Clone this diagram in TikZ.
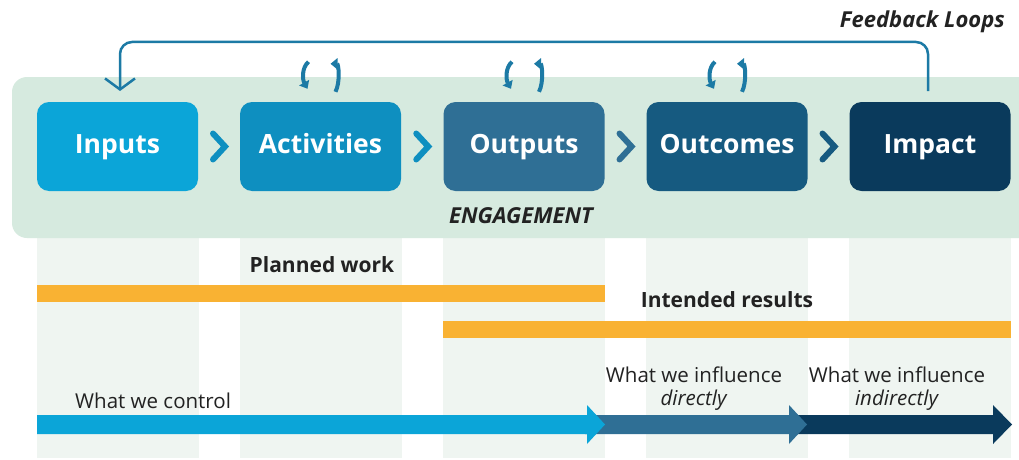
\documentclass[tikz,border=0pt]{standalone}
\usepackage{fontspec}
\setmainfont{Open Sans}
\usetikzlibrary{arrows.meta,calc}
\definecolor{cIn}{HTML}{0BA5D8}
\definecolor{cAct}{HTML}{0E8FC0}
\definecolor{cOut}{HTML}{2F6F95}
\definecolor{cOc}{HTML}{165A80}
\definecolor{cImp}{HTML}{0A3A5C}
\definecolor{cPanel}{HTML}{D6EADF}
\definecolor{cCol}{HTML}{EFF5F1}
\definecolor{cOrange}{HTML}{F9B233}
\definecolor{cLoop}{HTML}{1C7AA5}
\definecolor{cTxt}{HTML}{222222}
\tikzset{
  box/.style={rounded corners=12pt, minimum width=161pt, minimum height=89pt, text=white, inner sep=0pt,
    text height=19pt, text depth=6pt, font=\bfseries\fontsize{26.5}{30}\selectfont},
  chev/.style={line width=6pt, line cap=round, line join=miter},
  curl/.style={line width=4pt, cLoop, -{Triangle[length=7pt,width=11pt]}},
  lbl/.style={text=cTxt, font=\fontsize{20.5}{23}\selectfont, inner sep=0pt, align=center},
  blbl/.style={text=cTxt, font=\bfseries\fontsize{21}{25}\selectfont, inner sep=0pt},
  bilbl/.style={text=cTxt, font=\bfseries\itshape\fontsize{22}{25}\selectfont, inner sep=0pt},
}
\begin{document}
\begin{tikzpicture}[x=1pt,y=-1pt]
\clip (0,0) rectangle (1019,460);
\fill[white] (0,0) rectangle (1019,460);
% columns
\foreach \x in {37,240,443,646,849}{\fill[cCol] (\x,236) rectangle ++(162,222);}
% panel
\fill[cPanel, rounded corners=15pt] (12,77) rectangle (1040,238);
% boxes
\node[box, fill=cIn]  (inputs)   at (117.5,146.5) {Inputs};
\node[box, fill=cAct] (activities) at (320.5,146.5) {Activities};
\node[box, fill=cOut] (outputs)  at (524,146.5) {Outputs};
\node[box, fill=cOc]  (outcomes) at (727,146.5) {Outcomes};
\node[box, fill=cImp] (impact)   at (930,146.5) {Impact};
% chevrons
\foreach \a/\b/\c in {inputs/activities/cAct, activities/outputs/cAct, outputs/outcomes/cOut, outcomes/impact/cOc}{
  \draw[chev, \c] ($(\a.east)!.5!(\b.west)+(-6,-13)$) -- ++(12,13) -- ++(-12,13);
}
% feedback loop
\coordinate (fbR) at (928,91);
\coordinate (fbL) at (120,91);
\draw[cLoop, line width=2.5pt, rounded corners=12pt, -{Straight Barb[length=11pt,width=30pt,line width=2.5pt]}]
  (fbR) -- (928,42) -- (120,42) -- (fbL);
\node[anchor=east, bilbl] (fbtxt) at (1005,22) {Feedback Loops};
% curls
\foreach \n in {activities,outputs,outcomes}{
  \path (\n.north) coordinate (c\n);
  \draw[curl] ($(c\n)+(-12,-40)$) .. controls +(-7,6) and +(-5,-9) .. ($(c\n)+(-13,-13)$);
  \draw[curl] ($(c\n)+(15,-10)$) .. controls +(5,-10) and +(8,0) .. ($(c\n)+(10,-38)$);
}
\node[bilbl] (eng) at (521,216) {ENGAGEMENT};
% orange bars
\fill[cOrange] (37,285) rectangle (605,302);
\fill[cOrange] (443,321) rectangle (1011,338);
\node[blbl] (planned) at (322,265) {Planned work};
\node[blbl] (intended) at (727,300) {Intended results};
% bottom arrows
\fill[cImp] (790,415) -- (993,415) -- (993,405) -- (1012,424.5) -- (993,444) -- (993,434) -- (790,434) -- cycle;
\fill[cOut] (585,415) -- (789,415) -- (789,405) -- (807,424.5) -- (789,444) -- (789,434) -- (585,434) -- cycle;
\fill[cIn] (37,415) -- (587,415) -- (587,405) -- (605,424.5) -- (587,444) -- (587,434) -- (37,434) -- cycle;
\node[lbl, anchor=west] (ctrl) at (75,401) {What we control};
\node[lbl] (dir) at (694,389) {What we influence\\\textit{directly}};
\node[lbl] (indir) at (897,389) {What we influence\\\textit{indirectly}};
\end{tikzpicture}
\end{document}
